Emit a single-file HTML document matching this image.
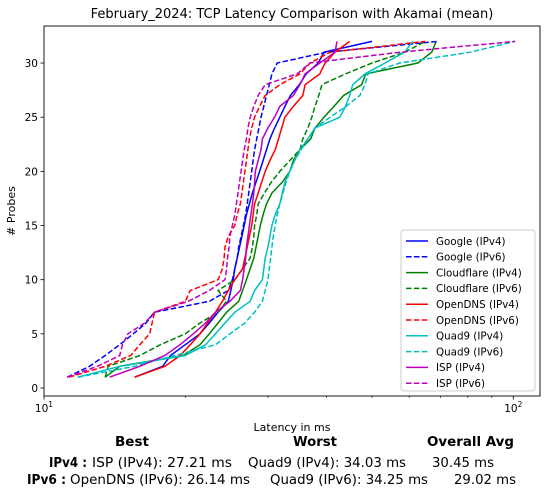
<!DOCTYPE html>
<html><head><meta charset="utf-8"><style>
body{margin:0;background:#fff;font-family:"Liberation Sans","DejaVu Sans",sans-serif;}
svg{display:block}
</style></head><body>
<svg id="chart" width="548" height="496" xmlns="http://www.w3.org/2000/svg" font-family="'DejaVu Sans','Liberation Sans',sans-serif">
<text x="292" y="18" font-size="13" text-anchor="middle">February_2024: TCP Latency Comparison with Akamai (mean)</text>
<g id="plot"></g>
<rect x="44" y="26" width="496" height="370" fill="none" stroke="#000" stroke-width="0.9"/>
<text x="292" y="431" font-size="11" text-anchor="middle">Latency in ms</text>
<text transform="translate(15,211) rotate(-90)" font-size="11" text-anchor="middle"># Probes</text>
<g id="legend"></g>
<g font-size="13" lengthAdjust="spacingAndGlyphs">
<text x="115" y="446" font-weight="bold" textLength="34" lengthAdjust="spacingAndGlyphs">Best</text>
<text x="293" y="446" font-weight="bold" textLength="44" lengthAdjust="spacingAndGlyphs">Worst</text>
<text x="427" y="446" font-weight="bold" textLength="87" lengthAdjust="spacingAndGlyphs">Overall Avg</text>
<text x="49" y="467" font-weight="bold" textLength="38" lengthAdjust="spacingAndGlyphs">IPv4 :</text>
<text x="92" y="467" textLength="140" lengthAdjust="spacingAndGlyphs">ISP (IPv4): 27.21 ms</text>
<text x="248" y="467" textLength="158" lengthAdjust="spacingAndGlyphs">Quad9 (IPv4): 34.03 ms</text>
<text x="432" y="467" textLength="62" lengthAdjust="spacingAndGlyphs">30.45 ms</text>
<text x="27" y="484" font-weight="bold" textLength="39" lengthAdjust="spacingAndGlyphs">IPv6 :</text>
<text x="70" y="484" textLength="180" lengthAdjust="spacingAndGlyphs">OpenDNS (IPv6): 26.14 ms</text>
<text x="270" y="484" textLength="158" lengthAdjust="spacingAndGlyphs">Quad9 (IPv6): 34.25 ms</text>
<text x="454" y="484" textLength="62" lengthAdjust="spacingAndGlyphs">29.02 ms</text>
</g>
</svg>
<script>
const seriesNames = ["Google (IPv4)","Google (IPv6)","Cloudflare (IPv4)","Cloudflare (IPv6)","OpenDNS (IPv4)","OpenDNS (IPv6)","Quad9 (IPv4)","Quad9 (IPv6)","ISP (IPv4)","ISP (IPv6)"];
const googleV4 = [15.6,17.9,18.6,20,21.5,22.5,23.5,24.7,25.0,25.3,25.5,25.8,26.1,26.4,26.7,27.0,27.4,27.8,28.3,28.8,29.3,29.8,30.3,31,31.8,32.6,33.5,35,36.2,38.4,39.5,50];
const googleV6 = [11.2,12.5,13.5,14.5,15.5,16.5,17.2,22.5,24.7,25.2,25.5,25.8,26.0,26.3,26.6,26.9,27.1,27.3,27.5,27.7,27.9,28.1,28.4,28.7,29.0,29.4,29.8,30.2,30.6,31.4,40,69];
const cloudV4 = [13.5,14.5,19.8,21.5,22.5,23.5,24.5,26,26.5,27,27.5,28,28.3,28.6,28.9,29.3,29.8,30.6,32.2,33.4,34,35.1,37,37.8,39.5,41.5,43.5,47.5,48.5,62.6,67,68.5];
const cloudV6 = [13.5,13.7,16.0,17.7,20.0,21.5,23.5,24.5,23.5,25.5,26.5,27.5,27.8,28.0,28.1,28.4,28.6,29.5,30.5,31.8,33.4,35.1,35.6,36.5,37.2,37.8,38.5,39.1,43.9,50.0,58.7,64.9];
const openV4 = [15.6,18.1,19.5,20.5,21.5,22.3,23.2,24.0,24.7,25.5,26.5,26.8,27.1,27.4,27.7,27.9,28.1,28.6,29.1,29.6,30.3,31.1,31.6,32.1,32.6,34.0,35.6,36.0,38.7,39.7,41.7,44.8];
const openV6 = [11.3,13.5,15.3,16.0,16.8,17.0,17.2,20.0,20.5,23.5,24.0,24.2,24.3,24.7,25.5,25.8,26.2,26.4,26.6,26.8,27.0,27.2,27.4,27.7,28.1,28.8,29.6,31.8,35.1,36.9,40.7,64.9];
const quad9V4 = [11.8,14.5,20.0,22.1,23.2,24.3,25.5,27.5,28.1,29.2,29.4,29.6,30.0,30.3,30.6,31.1,31.8,32.2,32.6,33.4,34.2,35.1,36.5,37.8,42.7,43.9,44.8,45.5,48.3,53.3,58.7,61.0];
const quad9V6 = [11.8,15.6,19.0,23.2,24.9,26.8,28.1,29.2,29.6,30.0,30.2,30.4,30.6,30.8,31.1,31.4,31.8,32.3,32.8,33.4,34.2,35.3,36.5,37.8,40.7,44.0,47.1,48.3,49.0,57.3,80.9,100.9];
const ispV4 = [13.8,16.0,18.1,19.5,20.8,22.1,23.2,24.9,26.2,26.5,26.7,26.9,27.0,27.2,27.4,27.6,27.8,28.0,28.1,28.2,28.6,29.0,29.2,30.0,31.0,31.8,34.0,35.1,36.0,38.7,41.7,42.1];
const ispV6 = [11.2,13.0,14.5,14.7,15.1,16.4,17.2,20.3,22.5,24.3,24.5,24.6,24.8,24.9,25.2,25.5,25.7,25.9,26.1,26.3,26.5,26.7,27.0,27.2,27.5,28.0,28.6,29.6,34.6,36.9,57.3,100.9];
const allSeries = [googleV4,googleV6,cloudV4,cloudV6,openV4,openV6,quad9V4,quad9V6,ispV4,ispV6];
const colors = ["#0000ff","#0000ff","#008000","#008000","#ff0000","#ff0000","#00bfbf","#00bfbf","#bf00bf","#bf00bf"];
const dashed = [false,true,false,true,false,true,false,true,false,true];
const yTicks = [0,5,10,15,20,25,30];
const xMajor = [10,100];
const xMin = 10, xMax = 114, yMin = -0.74, yMax = 33.42;
const L=44,R=540,T=26,B=396;
const NS="http://www.w3.org/2000/svg";
function xs(v){return L+(Math.log10(v)-Math.log10(xMin))/(Math.log10(xMax)-Math.log10(xMin))*(R-L);}
function ys(v){return B-(v-yMin)/(yMax-yMin)*(B-T);}
const plot=document.getElementById('plot');
function mk(tag,attrs,parent){const e=document.createElementNS(NS,tag);for(const k in attrs)e.setAttribute(k,attrs[k]);parent.appendChild(e);return e;}
yTicks.forEach(t=>{
  const ln=mk('line',{x1:L-3.5,x2:L,y1:ys(t),y2:ys(t),stroke:'#000','stroke-width':0.8},plot);
  
  
  const tx=mk('text',{x:L-6,y:ys(t)+4,'font-size':10.5,'text-anchor':'end'},plot);
  tx.textContent=t;
  
  
});
for(let d=10;d<=100;d*=10){for(let m=1;m<10;m++){const v=d*m;if(v<xMin||v>xMax)continue;
  const major=m===1;
  const ln=mk('line',{x1:xs(v),x2:xs(v),y1:B,y2:B+(major?3.5:2),stroke:'#000','stroke-width':major?0.8:0.6},plot);
  
  
}}
xMajor.forEach(v=>{
  const tx=mk('text',{x:xs(v),y:B+16,'font-size':10.5,'text-anchor':'middle'},plot);
  tx.textContent='10';
  const sup=document.createElementNS(NS,'tspan');sup.setAttribute('dy','-5');sup.setAttribute('font-size','7.5');sup.textContent=String(Math.round(Math.log10(v)));tx.appendChild(sup);
  
  
});
allSeries.forEach((s,i)=>{
  const pts=s.map((v,k)=>xs(v).toFixed(1)+','+ys(k+1).toFixed(1)).join(' ');
  const pl=mk('polyline',{points:pts,fill:'none',stroke:colors[i],'stroke-width':1.5},plot);
  if(dashed[i])pl.setAttribute('stroke-dasharray','5.5,2.4');
  
  
});
const lg=document.getElementById('legend');
const bx=mk('rect',{x:401,y:230,width:134,height:161,rx:3,fill:'#fff','fill-opacity':0.8,stroke:'#ccc'},lg);


seriesNames.forEach((n,i)=>{
  const y=241+i*15.8;
  const ln=mk('line',{x1:406,x2:428,y1:y,y2:y,stroke:colors[i],'stroke-width':1.5},lg);
  if(dashed[i])ln.setAttribute('stroke-dasharray','5.5,2.4');
  
  
  const tx=mk('text',{x:436,y:y+3.8,'font-size':10.3},lg);
  tx.textContent=n;
  
  
});
</script>
</body></html>
